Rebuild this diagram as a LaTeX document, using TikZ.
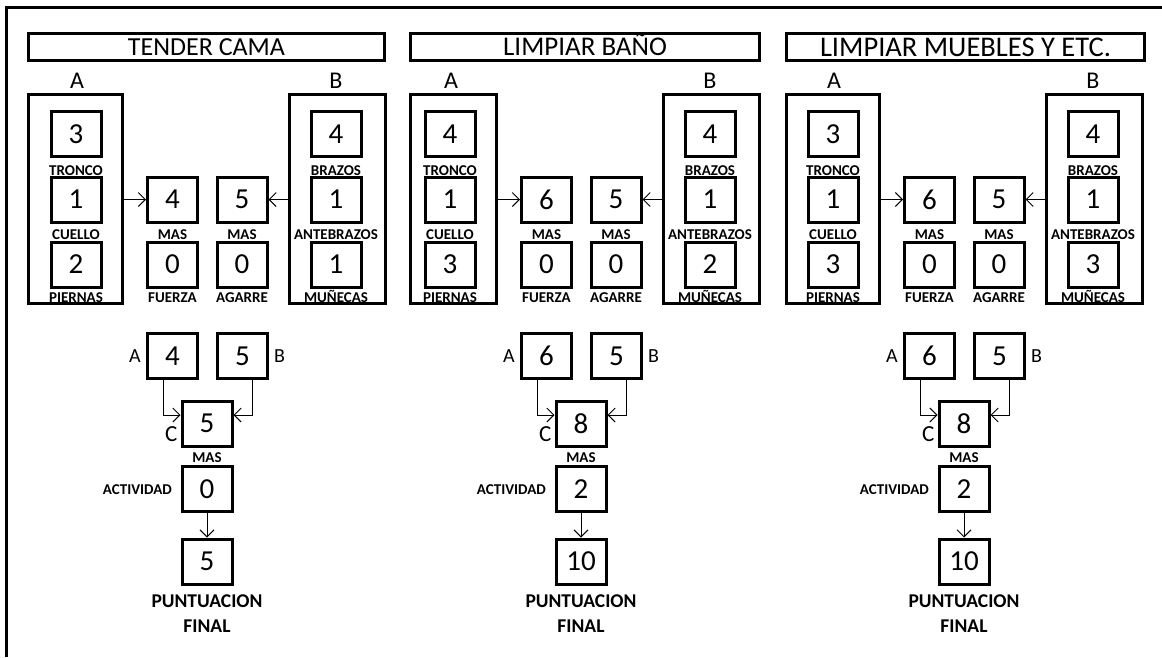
\documentclass[tikz,border=0pt]{standalone}
\usepackage{fontspec}
\setmainfont{Carlito}
\usetikzlibrary{arrows.meta}
\begin{document}
\begin{tikzpicture}[x=1pt,y=-1pt,
  frame/.style={line width=3pt},
  box/.style={draw,line width=3pt,inner sep=0pt,minimum width=50pt,minimum height=45pt,font=\fontsize{29}{29}\selectfont},
  titlebox/.style={draw,line width=3pt,inner sep=0pt,minimum height=27pt},
  grp/.style={draw,line width=3pt,inner sep=0pt,minimum height=209pt},
  hdr/.style={inner sep=0pt,font=\fontsize{24}{24}\selectfont},
  side/.style={inner sep=0pt,font=\fontsize{20}{20}\selectfont},
  lbl/.style={inner sep=0pt,text height=10pt,text depth=0pt,font=\bfseries\fontsize{15}{15}\selectfont},
  big/.style={inner sep=0pt,text height=12.5pt,text depth=0pt,font=\bfseries\fontsize{19.5}{19.5}\selectfont},
  arr/.style={line width=1pt,-{Straight Barb[length=7pt,width=14pt]}},
]
\useasboundingbox (0,0) rectangle (1162,657);
\coordinate (fTR) at (1162,7);
\coordinate (fBL) at (6,657);
\draw[frame] (fTR) -| (fBL);
\foreach \pn/\sx/\ttl/\tfs/\tlx/\trx/\alx/\aone/\atwo/\athree/\bone/\btwo/\bthree/\mA/\mB/\fz/\ag/\cv/\av/\fv in {
1/146/TENDER CAMA/26/27/386/-119/3/1/2/4/1/1/4/5/0/0/5/0/5,
2/520/LIMPIAR BAÑO/27/409/761/-111/4/1/3/4/1/2/6/5/0/0/8/2/10,
3/903/LIMPIAR MUEBLES Y ETC./28.5/785/1146/-118/3/1/3/4/1/3/6/5/0/0/8/2/10}
{
\pgfmathsetmacro\tht{0.645*\tfs}
\begin{scope}[shift={(\sx,0)}]
  \node[titlebox,minimum width={\trx-\tlx-3},text height=\tht pt,text depth=0pt,font=\fontsize{\tfs}{\tfs}\selectfont] (t\pn) at ({(\tlx+\trx)/2-\sx},47) {\ttl};
  \node[grp,minimum width={-22-\alx-3}] (A\pn) at ({(\alx-22)/2},199) {};
  \node[grp,minimum width=96pt] (B\pn) at (191.5,199) {};
  \node[hdr] (hA\pn) at (-69,80.5) {A};
  \node[hdr] (hB\pn) at (190,80.5) {B};
  % group A
  \node[box] (a1\pn) at (-70,134) {\aone};
  \node[lbl] (la1\pn) at (-70,170) {TRONCO};
  \node[box] (a2\pn) at (-70,199.5) {\atwo};
  \node[lbl] (la2\pn) at (-70,234) {CUELLO};
  \node[box] (a3\pn) at (-70,264.5) {\athree};
  \node[lbl] (la3\pn) at (-70,297) {PIERNAS};
  % group B
  \node[box] (b1\pn) at (190,134) {\bone};
  \node[lbl] (lb1\pn) at (190,170) {BRAZOS};
  \node[box] (b2\pn) at (190,199.5) {\btwo};
  \node[lbl] (lb2\pn) at (190,234) {ANTEBRAZOS};
  \node[box] (b3\pn) at (190,264.5) {\bthree};
  \node[lbl] (lb3\pn) at (190,297.5) {MUÑECAS};
  % middle
  \node[box] (ma\pn) at (26.5,199.5) {\mA};
  \node[lbl] (lma\pn) at (26.5,234) {MAS};
  \node[box] (mb\pn) at (96,199.5) {\mB};
  \node[lbl] (lmb\pn) at (96,234) {MAS};
  \node[box] (fz\pn) at (26.5,264.5) {\fz};
  \node[lbl] (lfz\pn) at (26.5,297) {FUERZA};
  \node[box] (ag\pn) at (96,264.5) {\ag};
  \node[lbl] (lag\pn) at (96,297) {AGARRE};
  \draw[arr] (ma\pn.west -| A\pn.east) -- (ma\pn.west);
  \draw[arr] (mb\pn.east -| B\pn.west) -- (mb\pn.east);
  % lower part
  \node[box] (la\pn) at (26.5,356) {\mA};
  \node[box] (lb\pn) at (96.5,356) {\mB};
  \node[side,anchor=east] (lA\pn) at ([xshift=-5pt]la\pn.west) {A};
  \node[side,anchor=west] (lB\pn) at ([xshift=5pt]lb\pn.east) {B};
  \node[box] (lc\pn) at (61,423.5) {\cv};
  \node[side,anchor=east,font=\fontsize{23}{23}\selectfont] (lC\pn) at ([xshift=-3pt,yshift=-11pt]lc\pn.west) {C};
  \node[lbl] (mc\pn) at (61,457) {MAS};
  \node[box] (ac\pn) at (61,489) {\av};
  \node[lbl,anchor=east] (lact\pn) at ([xshift=-8.5pt]ac\pn.west) {ACTIVIDAD};
  \node[box] (fn\pn) at (61,561.5) {\fv};
  \node[big] (pu\pn) at (61,601) {PUNTUACION};
  \node[big] (fi\pn) at (61,626) {FINAL};
  \draw[arr] ([xshift=-9.5pt]la\pn.south) |- ([yshift=8.5pt]lc\pn.west);
  \draw[arr] ([xshift=9.5pt]lb\pn.south) |- ([yshift=8.5pt]lc\pn.east);
  \draw[arr] (ac\pn.south) -- (fn\pn.north);
\end{scope}
}
\end{tikzpicture}
\end{document}
